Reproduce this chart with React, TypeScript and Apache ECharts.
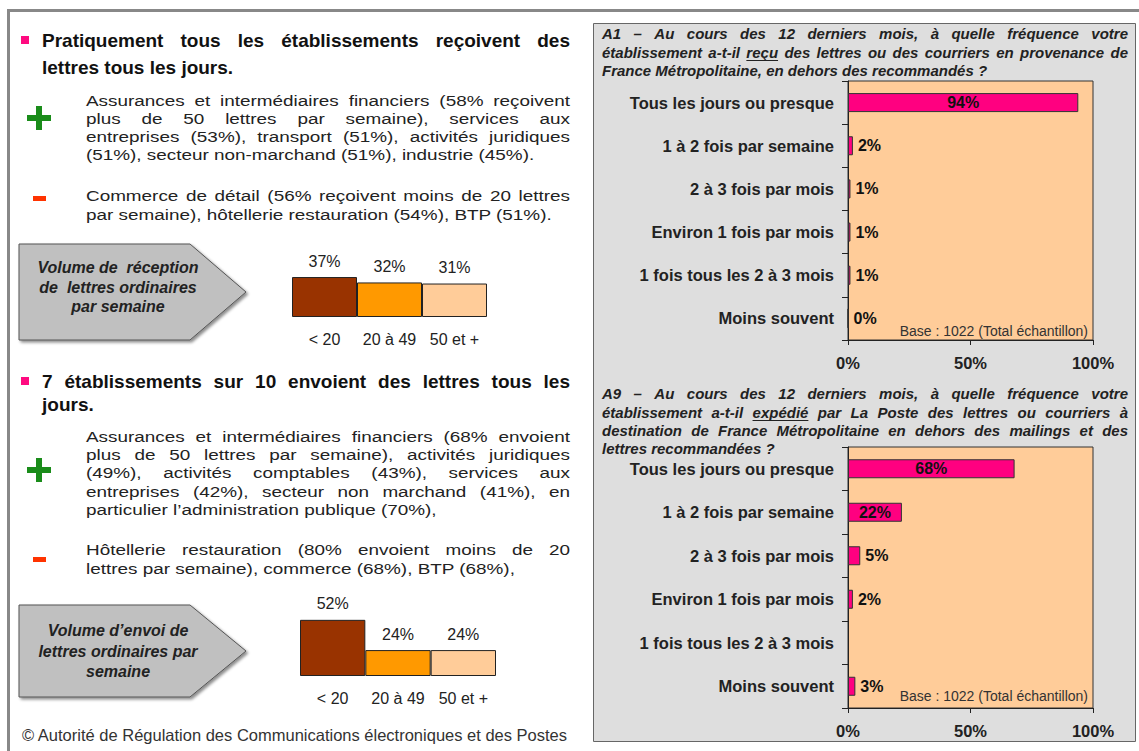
import React, { useEffect, useRef } from 'react';
import * as echarts from 'echarts';

const FONT = '"Liberation Sans", Arial, sans-serif';

// ---------- data ----------
const freqCategories = [
  'Tous les jours ou presque',
  '1 à 2 fois par semaine',
  '2 à 3 fois par mois',
  'Environ 1 fois par mois',
  '1 fois tous les 2 à 3 mois',
  'Moins souvent',
];
const receivedPct: (number | null)[] = [94, 2, 1, 1, 1, 0];
const sentPct: (number | null)[] = [68, 22, 5, 2, null, 3];
const pctTicks = [0, 50, 100];

const volumeCategories = ['< 20', '20 à 49', '50 et +'];
const receptionVolume = [37, 32, 31];
const sendVolume = [52, 24, 24];
const volumeColors = ['#993300', '#ff9900', '#ffcc99'];

const baseNote = 'Base : 1022 (Total échantillon)';

type LineSpec = { text: string; y: number; justify: boolean; underline?: string };

const heading1: LineSpec[] = [
  { text: 'Pratiquement tous les établissements reçoivent des', y: 40, justify: true },
  { text: 'lettres tous les jours.', y: 67, justify: false },
];
const plus1: LineSpec[] = [
  { text: 'Assurances et intermédiaires financiers (58% reçoivent', y: 101, justify: true },
  { text: 'plus de 50 lettres par semaine), services aux', y: 119, justify: true },
  { text: 'entreprises (53%), transport (51%), activités juridiques', y: 137, justify: true },
  { text: '(51%), secteur non-marchand (51%), industrie (45%).', y: 155, justify: false },
];
const minus1: LineSpec[] = [
  { text: 'Commerce de détail (56% reçoivent moins de 20 lettres', y: 196, justify: true },
  { text: 'par semaine), hôtellerie restauration (54%), BTP (51%).', y: 215, justify: false },
];
const heading2: LineSpec[] = [
  { text: '7 établissements sur 10 envoient des lettres tous les', y: 381, justify: true },
  { text: 'jours.', y: 404, justify: false },
];
const plus2: LineSpec[] = [
  { text: 'Assurances et intermédiaires financiers (68% envoient', y: 437, justify: true },
  { text: 'plus de 50 lettres par semaine), activités juridiques', y: 455, justify: true },
  { text: '(49%), activités comptables (43%), services aux', y: 473, justify: true },
  { text: 'entreprises (42%), secteur non marchand (41%), en', y: 492, justify: true },
  { text: 'particulier l’administration publique (70%),', y: 510, justify: false },
];
const minus2: LineSpec[] = [
  { text: 'Hôtellerie restauration (80% envoient moins de 20', y: 550, justify: true },
  { text: 'lettres par semaine), commerce (68%), BTP (68%),', y: 569, justify: false },
];
const footer = '© Autorité de Régulation des Communications électroniques et des Postes';

const titleA1: LineSpec[] = [
  { text: 'A1 – Au cours des 12 derniers mois, à quelle fréquence votre', y: 33, justify: true },
  { text: 'établissement a-t-il reçu des lettres ou des courriers en provenance de', y: 52, justify: true, underline: 'reçu' },
  { text: 'France Métropolitaine, en dehors des recommandés ?', y: 70, justify: false },
];
const titleA9: LineSpec[] = [
  { text: 'A9 – Au cours des 12 derniers mois, à quelle fréquence votre', y: 393, justify: true },
  { text: 'établissement a-t-il expédié par La Poste des lettres ou courriers à', y: 412, justify: true, underline: 'expédié' },
  { text: 'destination de France Métropolitaine en dehors des mailings et des', y: 430, justify: true },
  { text: 'lettres recommandées ?', y: 448, justify: false },
];
const arrow1Text = ['Volume de  réception', 'de  lettres ordinaires', 'par semaine'];
const arrow2Text = ['Volume d’envoi de', 'lettres ordinaires par', 'semaine'];

// ---------- helpers ----------
let mctx: CanvasRenderingContext2D | null = null;
function measure(text: string, size: number, weight: string, style: string) {
  if (!mctx) mctx = document.createElement('canvas').getContext('2d');
  mctx!.font = `${style} ${weight} ${size}px "Liberation Sans"`;
  return mctx!.measureText(text).width;
}

function textBlock(lines: LineSpec[], x: number, width: number, size: number, weight: string, style: string, fill: string, sx = 1) {
  const els: any[] = [];
  for (const ln of lines) {
    const words = ln.text.split(/\s+/).filter(Boolean);
    const mk = (t: string, tx: number) => ({
      type: 'text', x: tx, y: ln.y, silent: true, z: 5, scaleX: sx, scaleY: 1,
      style: { text: t, fill, fontFamily: FONT, fontSize: size, fontWeight: weight, fontStyle: style, textAlign: 'left', textVerticalAlign: 'middle' },
    });
    const ws = words.map((w) => measure(w, size, weight, style) * sx);
    const spaceW = measure(' ', size, weight, style) * sx;
    const pos: number[] = [];
    if (ln.justify && words.length > 1) {
      const total = ws.reduce((a, b) => a + b, 0);
      const gap = (width - total) / (words.length - 1);
      let cx = x;
      words.forEach((w, i) => { pos.push(cx); els.push(mk(w, cx)); cx += ws[i] + gap; });
    } else {
      els.push(mk(words.join(' '), x));
      let cx = x;
      words.forEach((w, i) => { pos.push(cx); cx += ws[i] + spaceW; });
    }
    if (ln.underline) {
      const i = words.indexOf(ln.underline);
      if (i >= 0) {
        const uy = Math.round(ln.y + size * 0.55) + 0.5;
        els.push({ type: 'line', silent: true, z: 5, shape: { x1: pos[i], y1: uy, x2: pos[i] + ws[i], y2: uy }, style: { stroke: fill, lineWidth: 1 } });
      }
    }
  }
  return els;
}

function arrow(top: number, bottom: number, lines: string[], lineYs: number[]) {
  const mid = (top + bottom) / 2;
  const els: any[] = [
    {
      type: 'polygon', silent: true, z: 1,
      shape: { points: [[19, top], [190, top], [246, mid], [190, bottom], [19, bottom]] },
      style: { fill: '#c0c0c0', stroke: '#555', lineWidth: 1, shadowColor: 'rgba(0,0,0,0.45)', shadowBlur: 3, shadowOffsetX: 2, shadowOffsetY: 2 },
    },
  ];
  lines.forEach((t, i) => {
    els.push({
      type: 'text', x: 118, y: lineYs[i], silent: true, z: 5,
      style: { text: t, fill: '#222', fontFamily: FONT, fontSize: 16, fontWeight: 'bold', fontStyle: 'italic', textAlign: 'center', textVerticalAlign: 'middle' },
    });
  });
  return els;
}

function freqAxes(gi: number) {
  return {
    x: {
      gridIndex: gi, type: 'value', min: pctTicks[0], max: pctTicks[pctTicks.length - 1], interval: pctTicks[1] - pctTicks[0],
      axisLine: { show: true, lineStyle: { color: '#222', width: 1 } },
      axisTick: { show: true, length: 5, lineStyle: { color: '#222' } },
      splitLine: { show: false },
      axisLabel: { formatter: '{value}%', fontFamily: FONT, fontSize: 16.5, fontWeight: 'bold', color: '#222', margin: 14 },
    },
    y: {
      gridIndex: gi, type: 'category', data: freqCategories, inverse: true,
      axisLine: { show: true, lineStyle: { color: '#222', width: 1 } },
      axisTick: { show: true, length: 6, lineStyle: { color: '#222' } },
      splitLine: { show: false },
      axisLabel: { interval: 0, fontFamily: FONT, fontSize: 16.5, fontWeight: 'bold', color: '#222', margin: 14 },
    },
  };
}

function freqSeries(gi: number, values: (number | null)[]) {
  return {
    type: 'bar', xAxisIndex: gi, yAxisIndex: gi, barWidth: 19,
    data: values.map((v) => ({
      value: v,
      label: { position: v !== null && v >= 20 ? 'inside' : 'right', distance: 5 },
    })),
    itemStyle: { color: '#ff0080', borderColor: '#333', borderWidth: 1 },
    label: { show: true, formatter: '{c}%', fontFamily: FONT, fontSize: 16, fontWeight: 'bold', color: '#111' },
  };
}

function volumeAxes(gi: number) {
  return {
    x: {
      gridIndex: gi, type: 'category', data: volumeCategories,
      axisLine: { show: false }, axisTick: { show: false },
      axisLabel: { interval: 0, fontFamily: FONT, fontSize: 16, color: '#222', margin: 14 },
    },
    y: { gridIndex: gi, type: 'value', min: 0, max: 100, show: false, splitLine: { show: false } },
  };
}

function volumeSeries(gi: number, values: number[]) {
  return {
    type: 'bar', xAxisIndex: gi, yAxisIndex: gi, barCategoryGap: '0%',
    data: values.map((v, i) => ({ value: v, itemStyle: { color: volumeColors[i] } })),
    itemStyle: { borderColor: '#222', borderWidth: 1 },
    label: { show: true, position: 'top', distance: 8, formatter: '{c}%', fontFamily: FONT, fontSize: 16, color: '#222' },
  };
}

function buildOption() {
  const a1 = freqAxes(0);
  const a9 = freqAxes(1);
  const v1 = volumeAxes(2);
  const v2 = volumeAxes(3);
  const PS = 15.5;
  const SX = 1.22;

  const graphic: any[] = [
    { type: 'rect', silent: true, z: -10, shape: { x: 593.5, y: 23.5, width: 542, height: 718 }, style: { fill: '#dedede', stroke: '#666', lineWidth: 1 } },
    { type: 'rect', silent: true, z: 1, shape: { x: 7, y: 9, width: 1132, height: 3 }, style: { fill: '#888' } },
    { type: 'rect', silent: true, z: 1, shape: { x: 7, y: 9, width: 3, height: 742 }, style: { fill: '#888' } },
    // bullets
    { type: 'rect', silent: true, z: 1, shape: { x: 21, y: 36, width: 8, height: 8 }, style: { fill: '#ff0a80' } },
    { type: 'rect', silent: true, z: 1, shape: { x: 21, y: 377, width: 8, height: 8 }, style: { fill: '#ff0a80' } },
    // plus signs
    { type: 'rect', silent: true, z: 1, shape: { x: 27, y: 115, width: 24, height: 6 }, style: { fill: '#1a8c1a' } },
    { type: 'rect', silent: true, z: 1, shape: { x: 36, y: 106, width: 6, height: 24 }, style: { fill: '#1a8c1a' } },
    { type: 'rect', silent: true, z: 1, shape: { x: 27, y: 467, width: 24, height: 6 }, style: { fill: '#1a8c1a' } },
    { type: 'rect', silent: true, z: 1, shape: { x: 36, y: 458, width: 6, height: 24 }, style: { fill: '#1a8c1a' } },
    // minus signs
    { type: 'rect', silent: true, z: 1, shape: { x: 33, y: 196, width: 13, height: 5 }, style: { fill: '#ff3300' } },
    { type: 'rect', silent: true, z: 1, shape: { x: 33, y: 557, width: 13, height: 5 }, style: { fill: '#ff3300' } },
    ...textBlock(heading1, 42, 528, 19, 'bold', 'normal', '#111'),
    ...textBlock(plus1, 86, 484, PS, 'normal', 'normal', '#222', SX),
    ...textBlock(minus1, 86, 484, PS, 'normal', 'normal', '#222', SX),
    ...textBlock(heading2, 42, 528, 19, 'bold', 'normal', '#111'),
    ...textBlock(plus2, 86, 484, PS, 'normal', 'normal', '#222', SX),
    ...textBlock(minus2, 86, 484, PS, 'normal', 'normal', '#222', SX),
    {
      type: 'text', x: 22, y: 735, silent: true, z: 5,
      style: { text: footer, fill: '#333', fontFamily: FONT, fontSize: 16.5, textAlign: 'left', textVerticalAlign: 'middle' },
    },
    ...arrow(244, 340, arrow1Text, [267, 287, 306]),
    ...arrow(605, 697, arrow2Text, [630, 651, 671]),
    ...textBlock(titleA1, 602, 526, 15, 'bold', 'italic', '#222'),
    ...textBlock(titleA9, 602, 526, 15, 'bold', 'italic', '#222'),
    {
      type: 'text', x: 1088, y: 331, silent: true, z: 20,
      style: { text: baseNote, fill: '#333', fontFamily: FONT, fontSize: 14, textAlign: 'right', textVerticalAlign: 'middle' },
    },
    {
      type: 'text', x: 1088, y: 696, silent: true, z: 20,
      style: { text: baseNote, fill: '#333', fontFamily: FONT, fontSize: 14, textAlign: 'right', textVerticalAlign: 'middle' },
    },
  ];

  return {
    animation: false,
    backgroundColor: '#ffffff',
    textStyle: { fontFamily: FONT },
    grid: [
      { left: 848, top: 81, width: 245, height: 259, show: true, backgroundColor: '#ffcc99', borderColor: '#333', borderWidth: 1 },
      { left: 848, top: 447, width: 245, height: 261, show: true, backgroundColor: '#ffcc99', borderColor: '#333', borderWidth: 1 },
      { left: 292, top: 209, width: 195, height: 108 },
      { left: 300, top: 568, width: 196, height: 108 },
    ],
    xAxis: [a1.x, a9.x, v1.x, v2.x],
    yAxis: [a1.y, a9.y, v1.y, v2.y],
    series: [
      freqSeries(0, receivedPct),
      freqSeries(1, sentPct),
      volumeSeries(2, receptionVolume),
      volumeSeries(3, sendVolume),
    ],
    graphic,
  };
}

export default function App() {
  const ref = useRef<HTMLDivElement>(null);
  useEffect(() => {
    if (!ref.current) return;
    const chart = echarts.init(ref.current, undefined, { renderer: 'svg' });
    chart.setOption(buildOption() as any);
    return () => chart.dispose();
  }, []);
  return <div ref={ref} style={{ position: 'fixed', left: 0, top: 0, width: 1139, height: 751 }} />;
}
